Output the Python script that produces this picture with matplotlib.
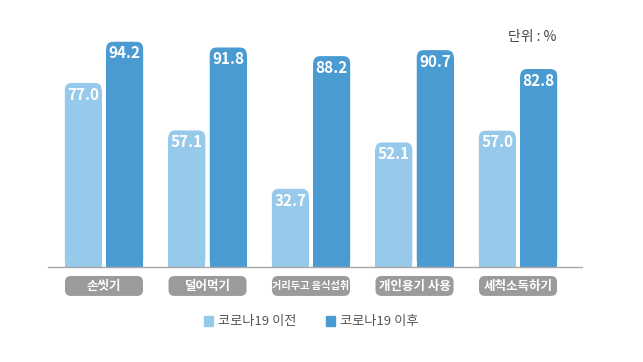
import matplotlib
matplotlib.use("Agg")
import matplotlib.pyplot as plt
from matplotlib.patches import FancyBboxPatch, Patch
from matplotlib import font_manager
import numpy as np

categories = ["손씻기", "덜어먹기", "거리두고 음식섭취", "개인용기 사용", "세척소독하기"]
before = [77.0, 57.1, 32.7, 52.1, 57.0]
after = [94.2, 91.8, 88.2, 90.7, 82.8]
series_names = ["코로나19 이전", "코로나19 이후"]
unit_label = "단위 : %"

light = "#97c9ea"
dark = "#4a9bd2"
box_gray = "#9b9b9b"

plt.rcParams["font.family"] = ["Noto Sans CJK KR", "DejaVu Sans"]

# narrow font for the numbers if there is one
names = {f.name for f in font_manager.fontManager.ttflist}
num_font = "Liberation Sans Narrow" if "Liberation Sans Narrow" in names else "Noto Sans CJK KR"

W, H = 643, 362
fig = plt.figure(figsize=(W / 100, H / 100), dpi=100)
ax = fig.add_axes([48 / W, 95 / H, 534 / W, 247 / H])
ax.set_xlim(-0.541, 4.618)
ax.set_ylim(0, 103.3)

# pixels per data unit
px_x = 534 / (4.618 + 0.541)
px_y = 247 / 103.3
rx = 7 / px_x
ry = 7 / px_y

x = np.arange(len(categories))
bw = 0.357
bars_b = ax.bar(x - 0.2, before, bw, color=light, linewidth=0)
bars_a = ax.bar(x + 0.2, after, bw, color=dark, linewidth=0)

for bars, color in [(bars_b, light), (bars_a, dark)]:
    for bar in bars:
        x0 = bar.get_x()
        w = bar.get_width()
        h = bar.get_height()
        bar.set_height(h - ry)
        ax.add_patch(FancyBboxPatch((x0, 0), w, h,
                                    boxstyle=f"round,pad=0,rounding_size={rx}",
                                    mutation_aspect=ry / rx,
                                    fc=color, ec="none"))
        ax.text(x0 + w / 2, h - 4.9, f"{h:.1f}", ha="center", va="center",
                color="white", fontsize=11, fontweight="bold", family=num_font)

# category labels in grey boxes
label_texts = []
for i, cat in enumerate(categories):
    ax.add_patch(FancyBboxPatch((i - 0.377, -12.1), 0.754, 8.35,
                                boxstyle=f"round,pad=0,rounding_size={6 / px_x}",
                                mutation_aspect=ry / rx,
                                fc=box_gray, ec="none", clip_on=False))
    t = ax.text(i, -7.95, cat, ha="center", va="center", color="white",
                fontsize=9, fontweight="bold", clip_on=False)
    label_texts.append(t)

fig.canvas.draw()
renderer = fig.canvas.get_renderer()
for t in label_texts:
    wpx = t.get_window_extent(renderer).width
    if wpx > 77:
        t.set_fontsize(9 * 77 / wpx)

for s in ["top", "right", "left"]:
    ax.spines[s].set_visible(False)
ax.spines["bottom"].set_color("#a8a8a8")
ax.spines["bottom"].set_linewidth(1)
ax.set_xticks([])
ax.set_yticks([])

fig.legend(handles=[Patch(color=light), Patch(color=dark)], labels=series_names,
           loc="center", bbox_to_anchor=(311 / W, 1 - 322 / H), ncol=2, frameon=False,
           handlelength=0.7, handleheight=0.7, handletextpad=0.4, columnspacing=2.2,
           fontsize=9.5, labelcolor="#555555")

fig.text(556 / W, 1 - 37 / H, unit_label, ha="right", va="center", fontsize=10, color="#444444")

fig.savefig("out.png", dpi=100)
